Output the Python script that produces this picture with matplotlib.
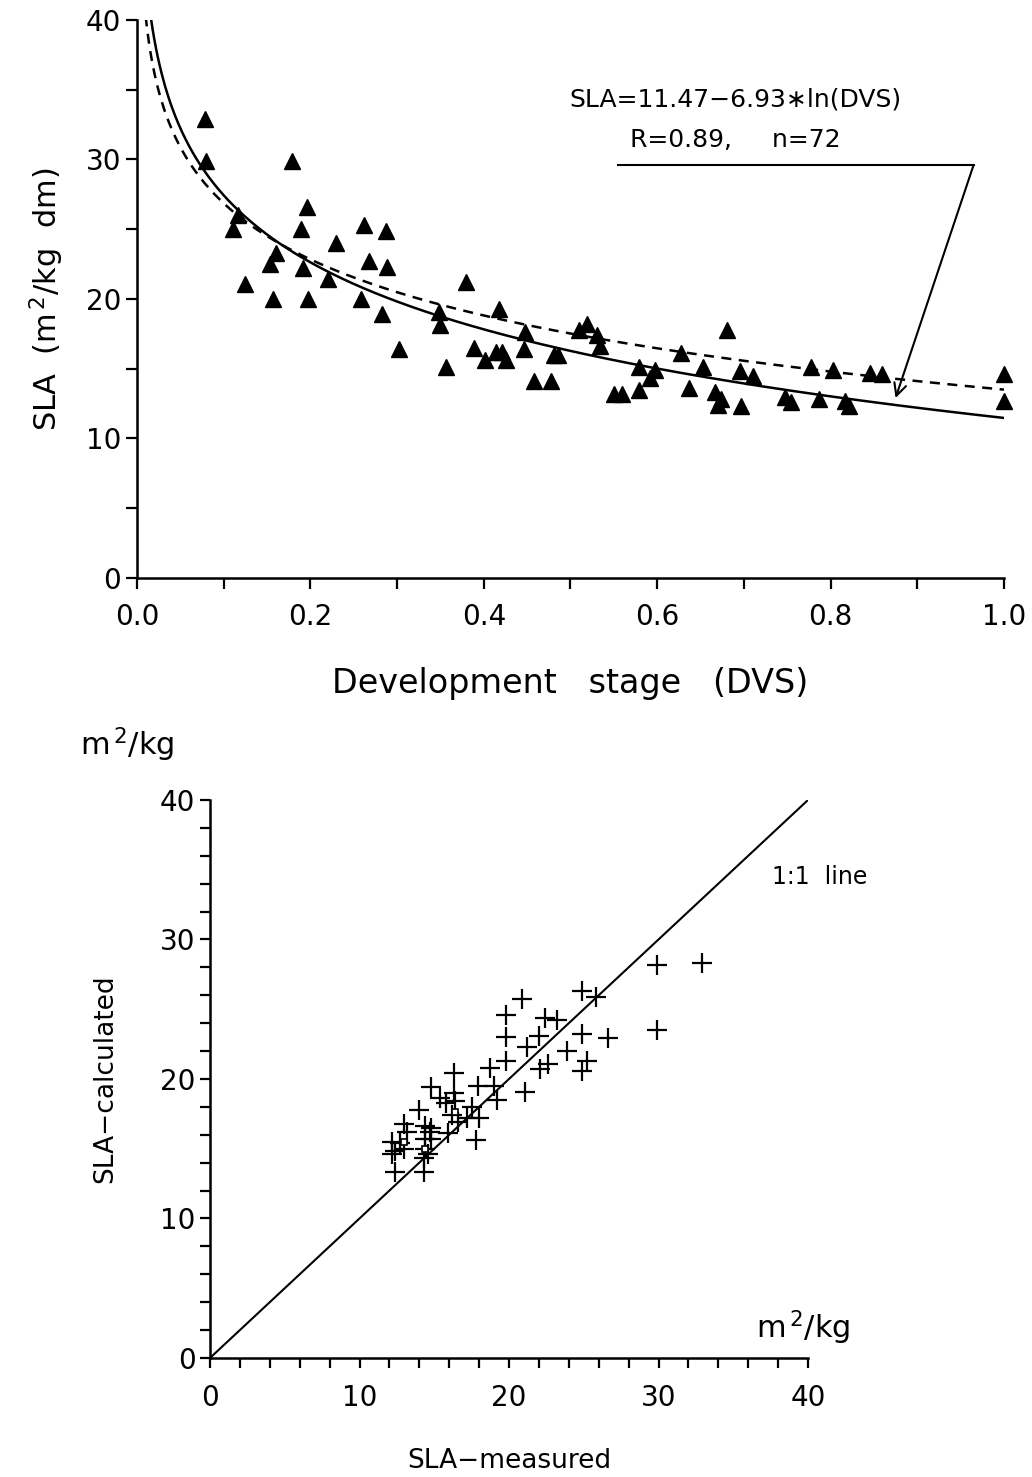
import numpy as np
import matplotlib
matplotlib.use("Agg")
import matplotlib.pyplot as plt
from matplotlib.ticker import MultipleLocator

# top panel: SLA against development stage
dvs = [0.078, 0.079, 0.111, 0.117, 0.124, 0.153, 0.157, 0.160, 0.179, 0.189,
       0.191, 0.196, 0.197, 0.220, 0.230, 0.258, 0.262, 0.267, 0.283, 0.287,
       0.288, 0.302, 0.348, 0.349, 0.356, 0.379, 0.389, 0.401, 0.414, 0.417,
       0.421, 0.426, 0.446, 0.447, 0.458, 0.478, 0.481, 0.486, 0.510, 0.519,
       0.531, 0.534, 0.550, 0.559, 0.579, 0.579, 0.592, 0.597, 0.627, 0.637,
       0.653, 0.667, 0.670, 0.674, 0.681, 0.695, 0.697, 0.710, 0.748, 0.754,
       0.777, 0.787, 0.803, 0.817, 0.821, 0.846, 0.859, 1.000, 1.000]
sla = [32.9, 29.9, 25.0, 26.0, 21.1, 22.5, 20.0, 23.3, 29.9, 25.0,
       22.2, 26.6, 20.0, 21.4, 24.0, 20.0, 25.3, 22.7, 18.9, 24.9,
       22.3, 16.4, 19.1, 18.1, 15.1, 21.2, 16.5, 15.6, 16.2, 19.3,
       16.2, 15.6, 16.4, 17.6, 14.1, 14.1, 16.0, 16.0, 17.8, 18.2,
       17.4, 16.6, 13.2, 13.2, 15.1, 13.5, 14.3, 14.9, 16.1, 13.6,
       15.1, 13.3, 12.4, 12.8, 17.8, 14.8, 12.3, 14.5, 13.0, 12.6,
       15.1, 12.8, 14.9, 12.7, 12.3, 14.7, 14.6, 14.6, 12.7]

# regression coefficients (solid) and second curve (dashed)
fit_a, fit_b = 11.47, 6.93
dash_a, dash_b = 13.5, 5.8

# bottom panel: measured vs calculated SLA
measured = [29.9, 32.9, 29.9, 24.9, 25.8, 20.9, 19.8, 22.4, 23.2, 19.8,
            22.0, 24.9, 26.6, 21.2, 23.9, 19.8, 18.7, 22.6, 22.1, 25.2,
            24.9, 16.3, 17.9, 19.0, 14.8, 21.1, 19.2, 16.3, 15.4, 15.8,
            16.4, 14.0, 17.5, 16.2, 17.2, 18.0, 16.6, 13.0, 13.2, 14.4,
            14.8, 15.9, 17.8, 12.2, 12.7, 14.4, 14.8, 12.4, 14.4, 12.2,
            14.3, 14.6, 12.4, 14.3, 13.0, 14.7]
calculated = [28.2, 28.3, 23.5, 26.3, 25.9, 25.7, 24.6, 24.4, 24.2, 23.0,
              23.1, 23.2, 22.9, 22.3, 22.0, 21.3, 20.8, 21.1, 20.7, 21.3,
              20.6, 20.4, 19.5, 19.5, 19.4, 19.1, 18.5, 19.0, 18.6, 18.3,
              18.4, 17.8, 18.0, 17.4, 17.2, 17.2, 16.9, 16.8, 16.2, 16.6,
              16.5, 16.1, 15.6, 15.5, 15.4, 15.7, 15.7, 14.8, 15.0, 14.6,
              14.3, 14.6, 13.3, 13.3, 15.0, 16.2]
sq_measured = [16.4, 13.0, 14.4]
sq_calculated = [17.6, 15.5, 15.0]

plt.rcParams['font.family'] = 'DejaVu Sans'

fig = plt.figure(figsize=(10.32, 14.77), dpi=100)

# ---------- top panel ----------
ax1 = fig.add_axes([0.1328, 0.6087, 0.840, 0.3778])
ax1.plot(dvs, sla, linestyle='none', marker='^', markersize=12,
         color='black', clip_on=False)
xc = np.linspace(0.004, 1.0, 500)
ax1.plot(xc, fit_a - fit_b * np.log(xc), color='black', lw=1.8)
ax1.plot(xc, dash_a - dash_b * np.log(xc), color='black', lw=1.8,
         linestyle=(0, (4, 3)))
ax1.set_xlim(0, 1.0)
ax1.set_ylim(0, 40)
for s in ['top', 'right']:
    ax1.spines[s].set_visible(False)
for s in ['left', 'bottom']:
    ax1.spines[s].set_linewidth(1.8)
ax1.xaxis.set_major_locator(MultipleLocator(0.2))
ax1.xaxis.set_minor_locator(MultipleLocator(0.1))
ax1.yaxis.set_major_locator(MultipleLocator(10))
ax1.yaxis.set_minor_locator(MultipleLocator(5))
ax1.xaxis.set_major_formatter(lambda v, p: f"{v:.1f}")
ax1.tick_params(which='both', direction='out', width=1.6, length=8,
                labelsize=20)
ax1.tick_params(axis='x', pad=10)
ax1.set_ylabel(r'SLA  (m$^{\,2}$/kg  dm)', fontsize=22, labelpad=14)
ax1.set_xlabel('Development   stage   (DVS)', fontsize=24, labelpad=26)

ax1.text(0.69, 34.3, 'SLA=11.47\u22126.93\u2217ln(DVS)', ha='center',
         va='center', fontsize=18)
ax1.text(0.569, 31.4, 'R=0.89,     n=72', ha='left', va='center', fontsize=18)
ax1.plot([0.555, 0.965], [29.6, 29.6], color='black', lw=1.5)
ax1.annotate('', xy=(0.875, 12.9), xytext=(0.965, 29.6),
             arrowprops=dict(arrowstyle='->', color='black', lw=1.5,
                             mutation_scale=22, shrinkA=0, shrinkB=0))

# ---------- bottom panel ----------
ax2 = fig.add_axes([0.2035, 0.0806, 0.5795, 0.3778])
ax2.plot([0, 40], [0, 40], color='black', lw=1.5)
ax2.plot(measured, calculated, linestyle='none', marker='+', markersize=14,
         markeredgewidth=1.6, color='black')
ax2.plot(sq_measured, sq_calculated, linestyle='none', marker='s',
         markersize=5, markerfacecolor='white', markeredgecolor='black',
         markeredgewidth=1.2)
ax2.set_xlim(0, 40)
ax2.set_ylim(0, 40)
for s in ['top', 'right']:
    ax2.spines[s].set_visible(False)
for s in ['left', 'bottom']:
    ax2.spines[s].set_linewidth(1.8)
ax2.xaxis.set_major_locator(MultipleLocator(10))
ax2.xaxis.set_minor_locator(MultipleLocator(2))
ax2.yaxis.set_major_locator(MultipleLocator(10))
ax2.yaxis.set_minor_locator(MultipleLocator(2))
ax2.tick_params(which='both', direction='out', width=1.6, length=7,
                labelsize=20)
ax2.tick_params(axis='x', pad=12)
ax2.set_ylabel('SLA\u2212calculated', fontsize=19, labelpad=30)
ax2.set_xlabel('SLA\u2212measured', fontsize=19, labelpad=26)
ax2.text(-0.217, 1.099, r'm$^{\,2}$/kg', transform=ax2.transAxes, ha='left',
         va='center', fontsize=22)
ax2.text(1.07, 0.055, r'm$^{\,2}$/kg', transform=ax2.transAxes, ha='right',
         va='center', fontsize=22)
ax2.text(37.6, 34.5, '1:1  line', ha='left', va='center', fontsize=17)

fig.savefig('out.png', dpi=100)
